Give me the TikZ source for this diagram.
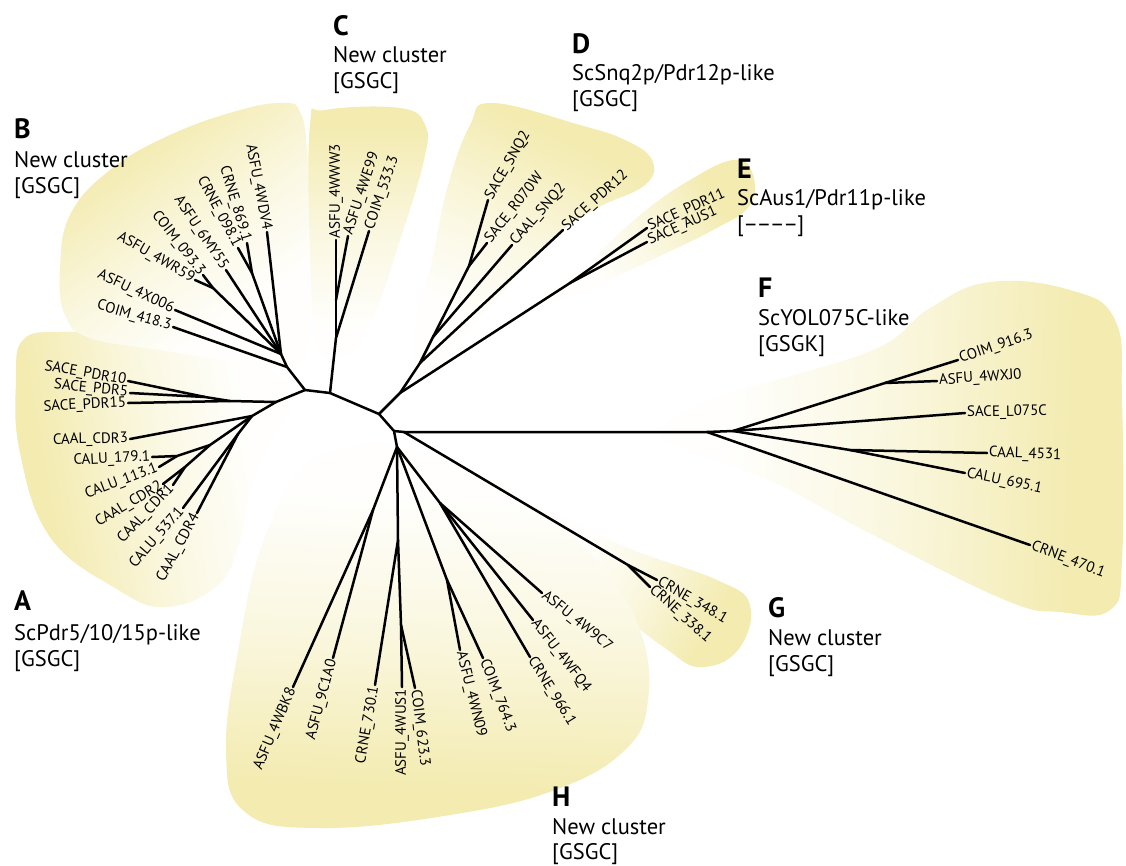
\documentclass[tikz,border=0pt]{standalone}
\usepackage{fontspec}
\setmainfont{PT Sans}
\definecolor{yel}{RGB}{243,235,176}
\pgfdeclareverticalshading{fadeY}{100bp}{color(0bp)=(yel!3); color(32bp)=(yel!3); color(50bp)=(yel!40); color(70bp)=(yel); color(100bp)=(yel)}
\newcommand\lf[5]{\node[lbl, rotate=#2, anchor=#3] (#5) at (#1) {#4};}
\begin{document}
\begin{tikzpicture}[x=1pt,y=-1pt,
  br/.style={line width=2.5pt, line cap=round, line join=round},
  lbl/.style={font=\fontsize{15}{17}\selectfont, inner sep=1.8pt},
  clet/.style={font=\fontsize{28}{30}\selectfont\bfseries, anchor=base west, inner sep=0pt},
  cdesc/.style={font=\fontsize{22.5}{25}\selectfont, anchor=base west, inner sep=0pt},
  blob/.style={shading=fadeY, draw=none}]
\useasboundingbox (0,0) rectangle (1126,865);
\fill[white] (0,0) rectangle (1126,865);
% ---------- shaded cluster areas ----------
\shade[blob, shading angle=100] plot[smooth cycle, tension=0.7] coordinates {(23,340) (60,332) (133,337) (233,355) (283,380) (290,407) (268,447) (250,490) (240,540) (218,585) (165,607) (115,588) (50,537) (20,453) (16,380)};
\shade[blob, shading angle=35] plot[smooth cycle, tension=0.7] coordinates {(300,112) (307,150) (310,250) (308,330) (295,365) (240,362) (160,350) (90,338) (65,315) (60,270) (70,215) (110,170) (170,135) (240,110) (285,103)};
\shade[blob, shading angle=0] plot[smooth cycle, tension=0.7] coordinates {(310,125) (325,110) (400,108) (425,125) (424,160) (400,240) (372,320) (345,355) (318,345) (310,250)};
\shade[blob, shading angle=-25] plot[smooth cycle, tension=0.7] coordinates {(470,125) (492,103) (580,125) (625,140) (652,160) (645,185) (597,208) (557,235) (515,278) (460,340) (420,380) (415,330) (432,260) (448,185)};
\shade[blob, shading angle=-60] plot[smooth cycle, tension=0.7] coordinates {(540,300) (580,270) (640,215) (690,180) (733,160) (752,172) (750,205) (713,230) (647,262) (580,293)};
\shade[blob, shading angle=-92] plot[smooth cycle, tension=0.7] coordinates {(660,432) (700,405) (740,390) (873,350) (930,308) (990,282) (1070,290) (1115,320) (1122,400) (1122,560) (1110,610) (1060,612) (1005,600) (873,535) (773,482) (690,450)};
\shade[blob, shading angle=-120] plot[smooth cycle, tension=0.7] coordinates {(530,525) (550,513) (633,550) (717,580) (750,605) (738,650) (700,667) (665,648) (600,598) (545,550)};
\shade[blob, shading angle=178] plot[smooth cycle, tension=0.7] coordinates {(390,445) (470,470) (540,510) (600,565) (640,630) (648,700) (625,750) (555,790) (450,815) (320,828) (245,812) (226,750) (240,640) (262,545) (300,470) (350,447)};
% ---------- tree nodes ----------
\coordinate (n1) at (305,390); \coordinate (n2) at (330,393); \coordinate (n3) at (379,414);
\coordinate (n4) at (394,431); \coordinate (h0) at (397,447); \coordinate (fg) at (404,432);
% A
\coordinate (a0) at (276,402); \coordinate (as0) at (230,401); \coordinate (as1) at (205,397);
\coordinate (a1) at (252,416); \coordinate (a2) at (210,445); \coordinate (a3) at (177,456);
\coordinate (a4) at (185,467); \coordinate (a5) at (238,434);
\coordinate (tPDR10) at (128,381); \coordinate (tPDR5) at (130,393); \coordinate (tPDR15) at (128,403);
\coordinate (tCDR3) at (130,439); \coordinate (t179) at (152,457); \coordinate (t113) at (159,467);
\coordinate (tCDR2) at (163,484); \coordinate (tCDR1) at (173,485); \coordinate (t537) at (183,508);
\coordinate (tCDR4) at (197,513);
% B
\coordinate (b0) at (287,367); \coordinate (b1) at (281,354); \coordinate (bw) at (213,288); \coordinate (bc) at (252,273);
\coordinate (t418) at (173,327); \coordinate (t4X006) at (175,310); \coordinate (t4WR59) at (195,280);
\coordinate (t093) at (203,275); \coordinate (t6MY55) at (226,270); \coordinate (t098) at (238,248);
\coordinate (t869) at (247,243); \coordinate (t4WDV4) at (267,232);
% C
\coordinate (c0) at (336,338); \coordinate (c1) at (336,300);
\coordinate (t4WWW3) at (336,240); \coordinate (t4WE99) at (348,236); \coordinate (t533) at (369,231);
% D, E
\coordinate (d0) at (400,393); \coordinate (d1) at (420,363); \coordinate (d2) at (433,337);
\coordinate (d3) at (469,266); \coordinate (e0) at (570,283);
\coordinate (tSNQ2) at (488,200); \coordinate (tR070W) at (487,243); \coordinate (tCSNQ2) at (512,245);
\coordinate (tPDR12) at (563,230); \coordinate (tPDR11) at (647,228); \coordinate (tAUS1) at (647,242);
% F
\coordinate (f0) at (707,432); \coordinate (f1) at (733,431); \coordinate (fu1) at (885,383); \coordinate (fl) at (850,450);
\coordinate (t916) at (958,360); \coordinate (t4WXJ0) at (937,381); \coordinate (tL075C) at (965,413);
\coordinate (t4531) at (987,453); \coordinate (t695) at (965,473); \coordinate (t470) at (1030,545);
% G
\coordinate (g0) at (628,565); \coordinate (t348) at (657,580); \coordinate (t338) at (650,587);
% H
\coordinate (hb) at (373,510); \coordinate (hv1) at (398,540); \coordinate (hv2) at (401,625);
\coordinate (hn) at (447,580); \coordinate (hc) at (440,503);
\coordinate (tBK8) at (293,687); \coordinate (t9C1A0) at (333,658); \coordinate (t730) at (375,685);
\coordinate (tUS1) at (402,687); \coordinate (t623) at (415,688); \coordinate (tN09) at (460,650);
\coordinate (t764) at (483,658); \coordinate (t966) at (530,657); \coordinate (tFQ4) at (533,620);
\coordinate (t9C7) at (542,593);
% ---------- branches ----------
\draw[br] (n1) -- (n2) -- (n3) -- (n4) -- (h0);
\draw[br] (n4) -- (fg);
\draw[br] (n1) -- (a0); \draw[br] (a0) -- (as0) -- (tPDR15); \draw[br] (as0) -- (as1) -- (tPDR10); \draw[br] (as1) -- (tPDR5);
\draw[br] (a0) -- (a1) -- (tCDR3); \draw[br] (a1) -- (a2) -- (a3) -- (t179); \draw[br] (a3) -- (t113);
\draw[br] (a2) -- (a4) -- (tCDR2); \draw[br] (a4) -- (tCDR1);
\draw[br] (a1) -- (a5) -- (t537); \draw[br] (a5) -- (tCDR4);
\draw[br] (n1) -- (b0) -- (t418); \draw[br] (b0) -- (b1) -- (t4X006); \draw[br] (b1) -- (bw) -- (t4WR59); \draw[br] (bw) -- (t093);
\draw[br] (b1) -- (t6MY55); \draw[br] (b1) -- (bc) -- (t098); \draw[br] (bc) -- (t869); \draw[br] (b1) -- (t4WDV4);
\draw[br] (n2) -- (c0) -- (t533); \draw[br] (c0) -- (c1) -- (t4WWW3); \draw[br] (c1) -- (t4WE99);
\draw[br] (n3) -- (d0) -- (e0) -- (tPDR11); \draw[br] (e0) -- (tAUS1);
\draw[br] (d0) -- (d1) -- (tPDR12); \draw[br] (d1) -- (d2) -- (tCSNQ2); \draw[br] (d2) -- (d3) -- (tSNQ2); \draw[br] (d3) -- (tR070W);
\draw[br] (fg) -- (f0) -- (t470); \draw[br] (f0) -- (f1) -- (fu1) -- (t916); \draw[br] (fu1) -- (t4WXJ0);
\draw[br] (f1) -- (tL075C); \draw[br] (f1) -- (fl) -- (t695); \draw[br] (fl) -- (t4531);
\draw[br] (fg) -- (g0) -- (t348); \draw[br] (g0) -- (t338);
\draw[br] (h0) -- (hb) -- (tBK8); \draw[br] (hb) -- (t9C1A0);
\draw[br] (h0) -- (hv1) -- (hv2) -- (tUS1); \draw[br] (hv1) -- (t730); \draw[br] (hv2) -- (t623);
\draw[br] (h0) -- (hn) -- (tN09); \draw[br] (hn) -- (t764);
\draw[br] (h0) -- (hc) -- (t966); \draw[br] (hc) -- (tFQ4); \draw[br] (hc) -- (t9C7);
% ---------- leaf labels ----------
\lf{tPDR10}{-10}{east}{SACE\_PDR10}{lPDR10}
\lf{tPDR5}{-6}{east}{SACE\_PDR5}{lPDR5}
\lf{tPDR15}{3}{east}{SACE\_PDR15}{lPDR15}
\lf{tCDR3}{1}{east}{CAAL\_CDR3}{lCDR3}
\lf{t179}{3}{east}{CALU\_179.1}{l179}
\lf{t113}{21}{east}{CALU\_113.1}{l113}
\lf{tCDR2}{31}{east}{CAAL\_CDR2}{lCDR2}
\lf{tCDR1}{47}{east}{CAAL\_CDR1}{lCDR1}
\lf{t537}{49}{east}{CALU\_537.1}{l537}
\lf{tCDR4}{62}{east}{CAAL\_CDR4}{lCDR4}
\lf{t418}{-16}{east}{COIM\_418.3}{l418}
\lf{t4X006}{-25}{east}{ASFU\_4X006}{l4X006}
\lf{t4WR59}{-30}{east}{ASFU\_4WR59}{l4WR59}
\lf{t093}{-52}{east}{COIM\_093.3}{l093}
\lf{t6MY55}{-56}{east}{ASFU\_6MY55}{l6MY55}
\lf{t098}{-62}{east}{CRNE\_098.1}{l098}
\lf{t869}{-73}{east}{CRNE\_869.1}{l869}
\lf{t4WDV4}{-79}{east}{ASFU\_4WDV4}{l4WDV4}
\lf{t4WWW3}{90}{west}{ASFU\_4WWW3}{l4WWW3}
\lf{t4WE99}{72}{west}{ASFU\_4WE99}{l4WE99}
\lf{t533}{71}{west}{COIM\_533.3}{l533}
\lf{tSNQ2}{60}{west}{SACE\_SNQ2}{lSNQ2}
\lf{tR070W}{52}{west}{SACE\_R070W}{lR070W}
\lf{tCSNQ2}{49}{west}{CAAL\_SNQ2}{lCSNQ2}
\lf{tPDR12}{42}{west}{SACE\_PDR12}{lPDR12}
\lf{tPDR11}{24}{west}{SACE\_PDR11}{lPDR11}
\lf{tAUS1}{24}{west}{SACE\_AUS1}{lAUS1}
\lf{t916}{19}{west}{COIM\_916.3}{l916}
\lf{t4WXJ0}{4}{west}{ASFU\_4WXJ0}{l4WXJ0}
\lf{tL075C}{1}{west}{SACE\_L075C}{lL075C}
\lf{t4531}{-2}{west}{CAAL\_4531}{l4531}
\lf{t695}{-12}{west}{CALU\_695.1}{l695}
\lf{t470}{-21}{west}{CRNE\_470.1}{l470}
\lf{t348}{-30}{west}{CRNE\_348.1}{l348}
\lf{t338}{-42}{west}{CRNE\_338.1}{l338}
\lf{tBK8}{67}{east}{ASFU\_4WBK8}{lBK8}
\lf{t9C1A0}{75}{east}{ASFU\_9C1A0}{l9C1A0}
\lf{t730}{80}{east}{CRNE\_730.1}{l730}
\lf{tUS1}{90}{east}{ASFU\_4WUS1}{lUS1}
\lf{t623}{-83}{west}{COIM\_623.3}{l623}
\lf{tN09}{-76}{west}{ASFU\_4WN09}{lN09}
\lf{t764}{-69}{west}{COIM\_764.3}{l764}
\lf{t966}{-58}{west}{CRNE\_966.1}{l966}
\lf{tFQ4}{-52}{west}{ASFU\_4WFQ4}{lFQ4}
\lf{t9C7}{-39}{west}{ASFU\_4W9C7}{l9C7}
% ---------- cluster headings ----------
\node[clet] (hA) at (14,610) {A};
\node[cdesc] (hA1) at (14,640) {ScPdr5/10/15p-like};
\node[cdesc] (hA2) at (14,666) {[GSGC]};
\node[clet] (hB) at (14,138) {B};
\node[cdesc] (hB1) at (14,167) {New cluster};
\node[cdesc] (hB2) at (14,193) {[GSGC]};
\node[clet] (hC) at (333,35) {C};
\node[cdesc] (hC1) at (333,62) {New cluster};
\node[cdesc] (hC2) at (333,88) {[GSGC]};
\node[clet] (hD) at (572,53) {D};
\node[cdesc] (hD1) at (572,80) {ScSnq2p/Pdr12p-like};
\node[cdesc] (hD2) at (572,106) {[GSGC]};
\node[clet] (hE) at (737,178) {E};
\node[cdesc] (hE1) at (737,205) {ScAus1/Pdr11p-like};
\node[cdesc] (hE2) at (737,231) {[\textendash\kern-1.5pt\textendash\kern-1.5pt\textendash\kern-1.5pt\textendash]};
\node[clet] (hF) at (758,297) {F};
\node[cdesc] (hF1) at (758,325) {ScYOL075C-like};
\node[cdesc] (hF2) at (758,351) {[GSGK]};
\node[clet] (hG) at (768,617) {G};
\node[cdesc] (hG1) at (768,645) {New cluster};
\node[cdesc] (hG2) at (768,671) {[GSGC]};
\node[clet] (hH) at (552,806) {H};
\node[cdesc] (hH1) at (552,834) {New cluster};
\node[cdesc] (hH2) at (552,859) {[GSGC]};
\end{tikzpicture}
\end{document}
